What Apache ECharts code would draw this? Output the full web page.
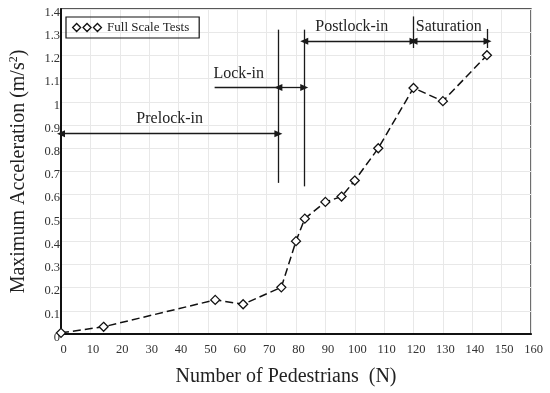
<!DOCTYPE html>
<html><head><meta charset="utf-8">
<script src="https://cdn.jsdelivr.net/npm/echarts@6/dist/echarts.min.js"></script>
<style>html,body{margin:0;padding:0;background:#fff}#c{width:550px;height:393px}</style>
</head><body><div id="c"></div>
<script>
// ---- data ----
const seriesName = 'Full Scale Tests';
const pedestrians = [0, 14.5, 52.5, 62, 75, 80, 83, 90, 95.5, 100, 108, 120, 130, 145];
const acceleration = [0.005, 0.031, 0.147, 0.128, 0.201, 0.40, 0.497, 0.569, 0.592, 0.661, 0.80, 1.06, 1.003, 1.201];
const xRange = [0, 160, 10];
const yRange = [0, 1.4, 0.1];
// phase annotations (data units)
const phaseNames = ['Prelock-in', 'Lock-in', 'Postlock-in', 'Saturation'];
const phaseLabelAt = [[37, 0.928], [60.5, 1.121], [99, 1.325], [132, 1.325]];
const phaseArrows = [[0, 74, 0.863], [74, 82.8, 1.062], [82.8, 120, 1.261], [120, 145.2, 1.261]]; // x1, x2, y
const phaseBounds = [[74, 0.651, 1.311], [82.8, 0.636, 1.311], [120, 1.232, 1.368], [145.2, 1.232, 1.314]]; // x, y1, y2
const leaderLines = [[52.3, 74, 1.062]]; // x1, x2, y

const FONT = '"Liberation Serif", "DejaVu Serif", serif';
const chart = echarts.init(document.getElementById('c'), null, {renderer: 'canvas'});

const markLineData = [];
phaseArrows.forEach(a => markLineData.push([
  {coord: [a[0], a[2]], symbol: 'triangle'},
  {coord: [a[1], a[2]], symbol: 'triangle'}
]));
phaseBounds.forEach(b => markLineData.push([
  {coord: [b[0], b[1]], symbol: 'none'},
  {coord: [b[0], b[2]], symbol: 'none'}
]));
leaderLines.forEach(l => markLineData.push([
  {coord: [l[0], l[2]], symbol: 'none'},
  {coord: [l[1], l[2]], symbol: 'none'}
]));

const option = {
  animation: false,
  backgroundColor: '#fff',
  textStyle: {fontFamily: FONT},
  grid: {left: 58, right: 19, top: 9, bottom: 59, show: true, borderColor: '#222', borderWidth: 1.3, containLabel: false},
  legend: {
    data: [{name: seriesName, icon: 'path://M0,5L5,0L10,5L5,10Z M13,5L18,0L23,5L18,10Z M26,5L31,0L36,5L31,10Z'}],
    left: 66, top: 17,
    borderColor: '#111', borderWidth: 1.2, borderRadius: 0,
    padding: [4, 10, 4, 6],
    itemWidth: 30, itemHeight: 8, itemGap: 5,
    itemStyle: {color: '#fff', borderColor: '#111', borderWidth: 1.3},
    textStyle: {fontFamily: FONT, fontSize: 13, color: '#222'},
    selectedMode: false
  },
  xAxis: {
    type: 'value', min: xRange[0], max: xRange[1], interval: xRange[2],
    name: 'Number of Pedestrians  (N)', nameLocation: 'middle', nameGap: 33,
    nameTextStyle: {fontFamily: FONT, fontSize: 20, color: '#222', padding: [0, 20, 0, 0]},
    axisLine: {show: true, lineStyle: {color: '#111', width: 2}},
    axisTick: {show: false},
    axisLabel: {fontFamily: FONT, fontSize: 12.5, color: '#333', margin: 9, padding: [0, 0, 0, 5]},
    splitLine: {show: true, lineStyle: {color: '#e8e8e8', width: 1}}
  },
  yAxis: {
    type: 'value', min: yRange[0], max: yRange[1], interval: yRange[2],
    name: 'Maximum Acceleration (m/s{sup|2})', nameLocation: 'middle', nameGap: 31,
    nameTextStyle: {fontFamily: FONT, fontSize: 20, color: '#222',
      rich: {sup: {fontFamily: FONT, fontSize: 12, color: '#222', verticalAlign: 'top', padding: [0, 0, 10, 0]}}},
    axisLine: {show: true, lineStyle: {color: '#111', width: 2}},
    axisTick: {show: false},
    axisLabel: {fontFamily: FONT, fontSize: 12.5, color: '#333', margin: 1, verticalAlign: 'top', lineHeight: 7},
    splitLine: {show: true, lineStyle: {color: '#e8e8e8', width: 1}}
  },
  series: [
    {
      name: 'annotations', type: 'line', data: [], silent: true,
      markLine: {
        silent: true, animation: false,
        symbolSize: [7, 8],
        label: {show: false},
        lineStyle: {color: '#1a1a1a', width: 1.3, type: 'solid'},
        emphasis: {disabled: true},
        data: markLineData
      },
      markPoint: {
        silent: true, symbol: 'circle', symbolSize: 0,
        label: {show: true, position: 'inside', formatter: '{b}', fontFamily: FONT, fontSize: 16, color: '#222'},
        data: phaseNames.map((n, i) => ({name: n, coord: phaseLabelAt[i]}))
      }
    },
    {
      name: seriesName, type: 'line',
      data: pedestrians.map((x, i) => [x, acceleration[i]]),
      symbol: 'diamond', symbolSize: 9, showSymbol: true,
      lineStyle: {color: '#111', width: 1.5, type: [8, 4]},
      itemStyle: {color: '#fff', borderColor: '#111', borderWidth: 1.3},
      z: 5
    }
  ]
};
chart.setOption(option);
</script>
</body></html>
